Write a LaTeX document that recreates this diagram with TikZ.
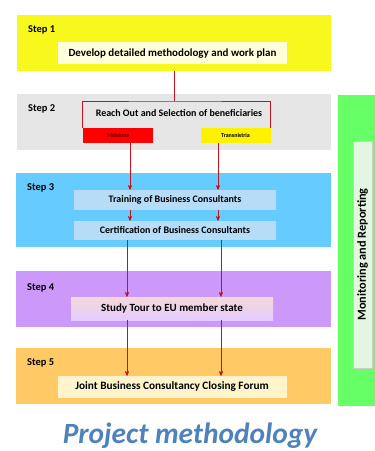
\documentclass[tikz,border=0pt]{standalone}
\usepackage{fontspec}
\setmainfont{Carlito}
\usepackage{xcolor}
\usetikzlibrary{arrows}
\definecolor{bandyellow}{HTML}{F8F81E}
\definecolor{bandgray}{HTML}{E6E6E6}
\definecolor{bandblue}{HTML}{66CCFF}
\definecolor{bandpurple}{HTML}{CC99FA}
\definecolor{bandorange}{HTML}{FFCA66}
\definecolor{bandgreen}{HTML}{66FF66}
\definecolor{planyellow}{HTML}{FFFFDC}
\definecolor{taskblue}{HTML}{B6DCF8}
\definecolor{taskpeach}{HTML}{F4D8D8}
\definecolor{tasklilac}{HTML}{E4CCFF}
\definecolor{taskcream}{HTML}{FFF4CC}
\definecolor{monitorgreen}{HTML}{E2F6E2}
\definecolor{linkred}{HTML}{C0141E}
\definecolor{titleblue}{HTML}{4F81BD}
\tikzset{
  basenode/.style = {align=center, inner sep=0pt, text centered, font=\bfseries},
  band_node/.style = {basenode, rectangle, minimum width=314bp, minimum height=56bp},
  step_label/.style = {basenode, anchor=west, font=\bfseries\fontsize{10.5}{12}\selectfont},
  task_node/.style = {basenode, rectangle, minimum width=202bp, minimum height=20bp, font=\bfseries\fontsize{10}{12}\selectfont},
  wide_task_node/.style = {task_node, minimum width=229bp, minimum height=22bp, font=\bfseries\fontsize{11}{13}\selectfont},
  region_node/.style = {basenode, rectangle, minimum width=70bp, minimum height=15bp, font=\bfseries\fontsize{6}{7}\selectfont},
  red_link/.style = {draw=linkred, line width=0.7bp},
  red_arrow/.style = {red_link, ->, >=stealth'},
}
\begin{document}
\begin{tikzpicture}[x=1bp,y=-1bp]
\useasboundingbox (0,0) rectangle (374,451);
\node [band_node, fill=bandyellow] (band1) at (174,43) {};
\node [band_node, fill=bandgray] (band2) at (174,122) {};
\node [band_node, fill=bandblue, minimum height=74bp] (band3) at (173.5,210) {};
\node [band_node, fill=bandpurple] (band4) at (173.5,299) {};
\node [band_node, fill=bandorange] (band5) at (173.5,376) {};
\node [rectangle, fill=bandgreen, minimum width=40bp, minimum height=311bp] (band6) at (358,250.5) {};

\node [step_label] (step1) at (28,30) {Step 1};
\node [step_label] (step2) at (28,109) {Step 2};
\node [step_label] (step3) at (27,188) {Step 3};
\node [step_label] (step4) at (27,288) {Step 4};
\node [step_label] (step5) at (27,363) {Step 5};

\node [wide_task_node, fill=planyellow] (plan) at (172.5,53.5) {Develop detailed methodology and work plan};
\node [basenode, font=\bfseries\fontsize{10}{12}\selectfont] (reach) at (179,113) {Reach Out and Selection of beneficiaries};
\node [region_node, fill=red, text=red!40!black] (moldova) at (118,135.5) {Moldova};
\node [region_node, fill=yellow] (transnistria) at (235.5,135.5) {Transnistria};
\node [task_node, fill=taskblue] (training) at (175,200) {Training of Business Consultants};
\node [task_node, fill=taskblue, minimum height=19bp] (certification) at (175,230.5) {Certification of Business Consultants};
\node [task_node, top color=taskpeach, bottom color=tasklilac, minimum height=23bp, font=\bfseries\fontsize{11}{13}\selectfont] (studytour) at (172,308.5) {Study Tour to EU member state};
\node [wide_task_node, fill=taskcream, font=\bfseries\fontsize{11.3}{13}\selectfont] (forum) at (172,387) {Joint Business Consultancy Closing Forum};
\node [task_node, fill=monitorgreen, draw=gray!40, line width=0.3bp, rotate=90, minimum width=227bp, minimum height=19bp, font=\bfseries\fontsize{12.3}{14}\selectfont] (monitoring) at (362.5,254.5) {Monitoring and Reporting};

\node [basenode, font=\bfseries\itshape\fontsize{29.5}{34}\selectfont, text=titleblue] (title) at (190,436) {Project methodology};

\coordinate (frametop) at (174,101);
\coordinate (leftcol) at (130,0);
\coordinate (rightcol) at (218,0);
\coordinate (leftlow) at (127,0);
\coordinate (rightlow) at (221,0);
\draw [red_link] (band1.south) -- (frametop);
\draw [red_link] (moldova.north west) |- (frametop) -| (transnistria.north east);
\draw [red_arrow] (moldova.south -| leftcol) -- (training.north -| leftcol);
\draw [red_arrow] (transnistria.south -| rightcol) -- (training.north -| rightcol);
\draw [red_arrow] (training.south -| leftcol) -- (certification.north -| leftcol);
\draw [red_arrow] (training.south -| rightcol) -- (certification.north -| rightcol);
\draw [red_arrow] (certification.south -| leftlow) -- (studytour.north -| leftlow);
\draw [red_arrow] (certification.south -| rightlow) -- (studytour.north -| rightlow);
\draw [red_arrow] (studytour.south -| leftlow) -- (forum.north -| leftlow);
\draw [red_arrow] (studytour.south -| rightlow) -- (forum.north -| rightlow);
\end{tikzpicture}
\end{document}
